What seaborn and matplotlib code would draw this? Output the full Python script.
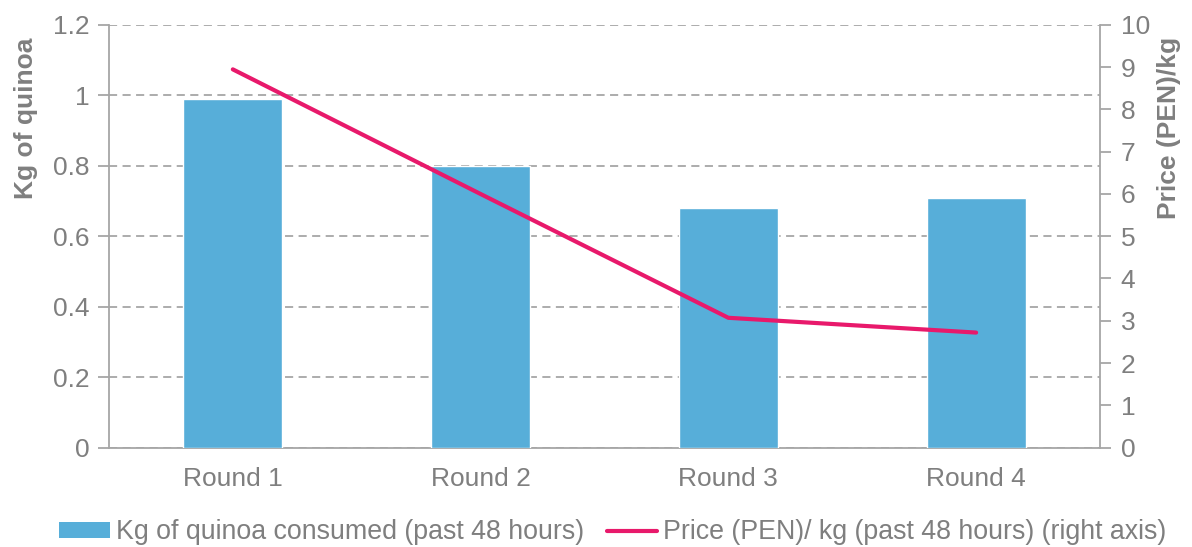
import numpy as np
import matplotlib
matplotlib.use("Agg")
import matplotlib.pyplot as plt
from matplotlib.patches import Patch
from matplotlib.lines import Line2D
import seaborn as sns

# ---------- DATA ----------
rounds = ["Round 1", "Round 2", "Round 3", "Round 4"]
kg_consumed = [0.99, 0.80, 0.68, 0.71]
price_per_kg = [8.95, 6.0, 3.07, 2.72]
# --------------------------

BAR_COLOR = "#57AED9"
LINE_COLOR = "#E8196B"
TEXT_COLOR = "#7F7F7F"
AXIS_COLOR = "#A6A6A6"

sns.set_style("white")
plt.rcParams["font.family"] = ["Liberation Sans", "DejaVu Sans"]

fig = plt.figure(figsize=(11.92, 5.47), dpi=100)
ax = fig.add_axes([0.0914, 0.1819, 0.8314, 0.7724])

sns.barplot(x=rounds, y=kg_consumed, color=BAR_COLOR, width=0.4,
            saturation=1, ax=ax, zorder=3)
ax.set_xlim(-0.5, 3.5)
ax.set_ylim(0, 1.2)
ax.set_yticks(np.arange(0, 1.21, 0.2))
ax.set_yticklabels(["0", "0.2", "0.4", "0.6", "0.8", "1", "1.2"])
ax.yaxis.grid(True, linestyle=(0, (4.5, 3)), color=AXIS_COLOR, linewidth=1.3, zorder=0)
ax.set_axisbelow(True)

# category boundary ticks on x
ax.set_xticks(np.arange(4))
ax.set_xticks(np.arange(-0.5, 3.6, 1), minor=True)
ax.tick_params(axis="x", which="major", length=0, labelsize=19,
               labelcolor=TEXT_COLOR, pad=14)
ax.tick_params(axis="x", which="minor", length=7, width=1.3, color=AXIS_COLOR)
ax.tick_params(axis="y", length=8, width=1.3, color=AXIS_COLOR, pad=6,
               labelsize=19, labelcolor=TEXT_COLOR, left=True)
ax.set_xlabel("")
ax.set_ylabel("Kg of quinoa", fontsize=19, fontweight="bold",
              color=TEXT_COLOR)
ax.yaxis.set_label_coords(-0.0716, 0.78)

for side in ["top", "right"]:
    ax.spines[side].set_visible(False)
for side in ["left", "bottom"]:
    ax.spines[side].set_color(AXIS_COLOR)
    ax.spines[side].set_linewidth(1.3)

ax2 = ax.twinx()
sns.lineplot(x=np.arange(len(rounds)), y=price_per_kg, color=LINE_COLOR,
             linewidth=3, ax=ax2)
ax2.set_ylim(0, 10)
ax2.set_yticks(np.arange(0, 11, 1))
ax2.tick_params(axis="y", length=8, width=1.3, color=AXIS_COLOR, right=True,
                pad=7, labelsize=19, labelcolor=TEXT_COLOR)
ax2.set_ylabel("Price (PEN)/kg", fontsize=19, fontweight="bold",
               color=TEXT_COLOR)
ax2.yaxis.set_label_coords(1.058, 0.757)
for side in ["top", "left", "bottom"]:
    ax2.spines[side].set_visible(False)
ax2.spines["right"].set_color(AXIS_COLOR)
ax2.spines["right"].set_linewidth(1.3)

handles = [Patch(facecolor=BAR_COLOR, edgecolor="none"),
           Line2D([0], [0], color=LINE_COLOR, linewidth=3)]
labels = ["Kg of quinoa consumed (past 48 hours)",
          "Price (PEN)/ kg (past 48 hours) (right axis)"]
fig.legend(handles, labels, loc="lower center", bbox_to_anchor=(0.514, -0.041),
           ncol=2, frameon=False, fontsize=19.3, labelcolor=TEXT_COLOR,
           handlelength=1.9, handleheight=0.55, handletextpad=0.2,
           columnspacing=0.85)

fig.savefig("out.png", dpi=100)
